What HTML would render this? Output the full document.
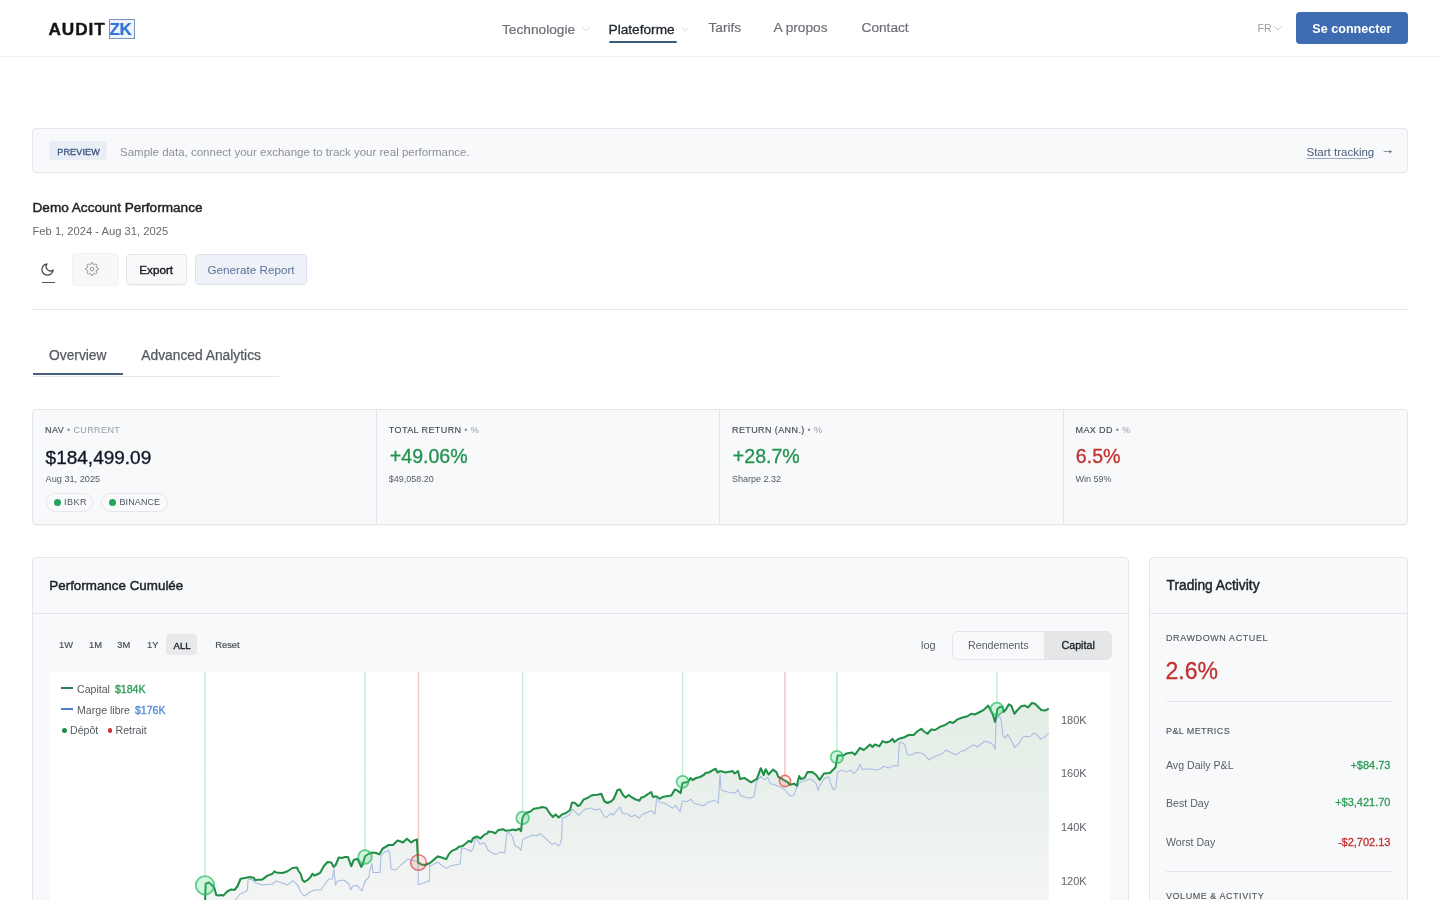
<!DOCTYPE html>
<html lang="fr"><head><meta charset="utf-8"><title>AuditZK - Demo Account Performance</title>
<style>
html,body{margin:0;padding:0;background:#fff;width:1440px;height:900px;overflow:hidden}
body{position:relative;font-family:"Liberation Sans",Arial,sans-serif;}
.t{position:absolute;line-height:1;white-space:nowrap}
</style></head><body>
<div class="" style="position:absolute;left:0px;top:0px;width:1440px;height:56px;background:#fff;border-bottom:1px solid #f0f0f0;box-sizing:content-box"></div>
<div class="t " style="left:48.50px;top:21.24px;font-size:17.2px;font-weight:700;color:#141414;letter-spacing:0.95px;-webkit-text-stroke:0.4px #141414">AUDIT</div>
<div class="" style="position:absolute;left:109px;top:19px;width:26px;height:20px;border:1px solid #7d93b8;box-sizing:border-box;background:#eef4fd"></div>
<div class="t " style="left:109.50px;top:21.41px;font-size:17px;font-weight:700;color:#3574d4;letter-spacing:-0.3px;-webkit-text-stroke:0.2px #3574d4">ZK</div>
<div class="t " style="left:502.00px;top:23.20px;font-size:13.7px;color:#6b6f75;-webkit-text-stroke:0.2px #6b6f75">Technologie</div>
<svg style="position:absolute;left:582px;top:27px" width="8" height="5" viewBox="0 0 8 5"><path d="M0.5 0.5 L4 4 L7.5 0.5" fill="none" stroke="#dadde1" stroke-width="1"/></svg>
<div class="t " style="left:608.50px;top:23.20px;font-size:13.7px;color:#1f2430;-webkit-text-stroke:0.3px #1f2430">Plateforme</div>
<svg style="position:absolute;left:680.5px;top:27px" width="8" height="5" viewBox="0 0 8 5"><path d="M0.5 0.5 L4 4 L7.5 0.5" fill="none" stroke="#dadde1" stroke-width="1"/></svg>
<div class="" style="position:absolute;left:609px;top:41px;width:68px;height:2px;background:#3c5a7e;border-radius:1px"></div>
<div class="t " style="left:708.50px;top:21.40px;font-size:13.7px;color:#6b6f75;-webkit-text-stroke:0.2px #6b6f75">Tarifs</div>
<div class="t " style="left:773.50px;top:21.40px;font-size:13.7px;color:#6b6f75;-webkit-text-stroke:0.2px #6b6f75">A propos</div>
<div class="t " style="left:861.50px;top:21.40px;font-size:13.7px;color:#6b6f75;-webkit-text-stroke:0.2px #6b6f75">Contact</div>
<div class="t " style="left:1257.50px;top:23.41px;font-size:10.5px;color:#9a9da2">FR</div>
<svg style="position:absolute;left:1274px;top:25.5px" width="8" height="5" viewBox="0 0 8 5"><path d="M0.5 0.5 L4 4 L7.5 0.5" fill="none" stroke="#c3c6cb" stroke-width="1"/></svg>
<div class="" style="position:absolute;left:1296px;top:12px;width:112px;height:32px;background:#3e6cb0;border-radius:4px"></div>
<div class="t " style="left:1312.30px;top:22.83px;font-size:12.6px;color:#fff;font-weight:700">Se connecter</div>
<div class="" style="position:absolute;left:32px;top:128px;width:1376px;height:45px;background:#f8f9fb;border:1px solid #e4e6ea;border-radius:4px;box-sizing:border-box"></div>
<div class="" style="position:absolute;left:49px;top:141px;width:58px;height:19px;background:#e9edf5;border-radius:3px"></div>
<div class="t " style="left:57.30px;top:147.68px;font-size:9px;color:#3f5a82;letter-spacing:0.15px;-webkit-text-stroke:0.35px #3f5a82">PREVIEW</div>
<div class="t " style="left:120.00px;top:146.56px;font-size:11.5px;color:#8c9097">Sample data, connect your exchange to track your real performance.</div>
<div class="t " style="left:1306.50px;top:146.56px;font-size:11.5px;color:#4c5b78;text-decoration:underline;text-underline-offset:2px;text-decoration-color:#9aa6bd">Start tracking</div>
<div class="t " style="left:1381.00px;top:143.39px;font-size:13px;color:#4c5b78;-webkit-text-stroke:0.2px #4c5b78">→</div>
<div class="t " style="left:32.50px;top:200.89px;font-size:13.6px;color:#1e2226;-webkit-text-stroke:0.45px #1e2226">Demo Account Performance</div>
<div class="t " style="left:32.50px;top:225.62px;font-size:11.2px;color:#666a70">Feb 1, 2024 - Aug 31, 2025</div>
<svg style="position:absolute;left:40px;top:262px" width="15" height="15" viewBox="0 0 24 24" fill="none" stroke="#444" stroke-width="2" stroke-linecap="round" stroke-linejoin="round"><path d="M21 12.79A9 9 0 1 1 11.21 3 7 7 0 0 0 21 12.79z"/></svg><div class="" style="position:absolute;left:41.5px;top:281.5px;width:13.0px;height:1.5px;background:#555"></div>
<div class="" style="position:absolute;left:72px;top:253px;width:46.5px;height:33px;background:#f8f8f9;border:1px solid #f2f2f3;border-radius:4px;box-sizing:border-box"></div>
<svg style="position:absolute;left:85px;top:262px" width="14" height="14" viewBox="0 0 24 24" fill="none" stroke="#858a90" stroke-width="1.6" stroke-linecap="round" stroke-linejoin="round"><circle cx="12" cy="12" r="3"/><path d="M19.4 15a1.65 1.65 0 0 0 .33 1.82l.06.06a2 2 0 0 1 0 2.83 2 2 0 0 1-2.83 0l-.06-.06a1.65 1.65 0 0 0-1.82-.33 1.65 1.65 0 0 0-1 1.51V21a2 2 0 0 1-2 2 2 2 0 0 1-2-2v-.09A1.65 1.65 0 0 0 9 19.4a1.65 1.65 0 0 0-1.82.33l-.06.06a2 2 0 0 1-2.83 0 2 2 0 0 1 0-2.83l.06-.06a1.65 1.65 0 0 0 .33-1.82 1.65 1.65 0 0 0-1.51-1H3a2 2 0 0 1-2-2 2 2 0 0 1 2-2h.09A1.65 1.65 0 0 0 4.6 9a1.65 1.65 0 0 0-.33-1.82l-.06-.06a2 2 0 0 1 0-2.83 2 2 0 0 1 2.83 0l.06.06a1.65 1.65 0 0 0 1.82.33H9a1.65 1.65 0 0 0 1-1.51V3a2 2 0 0 1 2-2 2 2 0 0 1 2 2v.09a1.65 1.65 0 0 0 1 1.51 1.65 1.65 0 0 0 1.82-.33l.06-.06a2 2 0 0 1 2.83 0 2 2 0 0 1 0 2.83l-.06.06a1.65 1.65 0 0 0-.33 1.82V9a1.65 1.65 0 0 0 1.51 1H21a2 2 0 0 1 2 2 2 2 0 0 1-2 2h-.09a1.65 1.65 0 0 0-1.51 1z"/></svg><div class="" style="position:absolute;left:126px;top:253.5px;width:60.5px;height:31.5px;background:#f8f9fb;border:1px solid #e2e5e9;border-radius:4px;box-sizing:border-box;box-shadow:0 1px 1px rgba(0,0,0,0.03)"></div>
<div class="t " style="left:139.30px;top:264.39px;font-size:11.7px;color:#1a1c1f;-webkit-text-stroke:0.4px #1a1c1f">Export</div>
<div class="" style="position:absolute;left:195px;top:253.5px;width:112px;height:31.5px;background:#eef2f8;border:1px solid #dbe1ea;border-radius:4px;box-sizing:border-box"></div>
<div class="t " style="left:207.50px;top:264.39px;font-size:11.7px;color:#5b7398">Generate Report</div>
<div class="" style="position:absolute;left:32px;top:309px;width:1376px;height:1px;background:#e6e8eb"></div>
<div class="" style="position:absolute;left:33px;top:376px;width:246px;height:1px;background:#e6e8eb"></div>
<div class="" style="position:absolute;left:33px;top:373px;width:90px;height:2px;background:#465f7a"></div>
<div class="t " style="left:49.00px;top:348.92px;font-size:13.8px;color:#555a60;-webkit-text-stroke:0.25px #555a60">Overview</div>
<div class="t " style="left:141.30px;top:348.92px;font-size:13.8px;color:#555a60;-webkit-text-stroke:0.25px #555a60">Advanced Analytics</div>
<div class="" style="position:absolute;left:32px;top:409px;width:1376px;height:116px;background:#f8f9fb;border:1px solid #e3e5e9;border-radius:4px;box-sizing:border-box;box-shadow:0 1px 2px rgba(0,0,0,0.04)"></div>
<div class="" style="position:absolute;left:376px;top:410px;width:1px;height:114px;background:#e3e5e9"></div>
<div class="" style="position:absolute;left:719px;top:410px;width:1px;height:114px;background:#e3e5e9"></div>
<div class="" style="position:absolute;left:1063px;top:410px;width:1px;height:114px;background:#e3e5e9"></div>
<div class="t " style="left:45.00px;top:425.98px;font-size:9px;letter-spacing:0.4px"><span style="color:#4a4f56;-webkit-text-stroke:0.15px #4a4f56">NAV</span> <span style="color:#8e9298">•</span> <span style="color:#989ca2">CURRENT</span></div>
<div class="t " style="left:45.60px;top:447.51px;font-size:19px;color:#111827;font-weight:400;-webkit-text-stroke:0.35px #111827">$184,499.09</div>
<div class="t " style="left:45.50px;top:474.81px;font-size:9.2px;color:#555a60">Aug 31, 2025</div>
<div class="" style="position:absolute;left:46px;top:493px;width:47px;height:18.5px;border:1px solid #e6e7ea;border-radius:10px;box-sizing:border-box;background:#f9fafb"></div>
<div class="" style="position:absolute;left:53.5px;top:498.5px;width:7.0px;height:7.0px;background:#23a55a;border-radius:50%"></div>
<div class="t " style="left:64.00px;top:497.88px;font-size:9px;color:#50555c;letter-spacing:0.5px">IBKR</div>
<div class="" style="position:absolute;left:101px;top:493px;width:66.5px;height:18.5px;border:1px solid #e6e7ea;border-radius:10px;box-sizing:border-box;background:#f9fafb"></div>
<div class="" style="position:absolute;left:108.5px;top:498.5px;width:7.0px;height:7.0px;background:#23a55a;border-radius:50%"></div>
<div class="t " style="left:119.50px;top:497.88px;font-size:9px;color:#50555c;letter-spacing:0.1px">BINANCE</div>
<div class="t " style="left:388.80px;top:425.98px;font-size:9px;letter-spacing:0.4px"><span style="color:#4a4f56;-webkit-text-stroke:0.15px #4a4f56">TOTAL RETURN</span> <span style="color:#8e9298">•</span> <span style="color:#989ca2">%</span></div>
<div class="t " style="left:389.80px;top:446.71px;font-size:19.6px;color:#22924f;-webkit-text-stroke:0.3px #22924f">+49.06%</div>
<div class="t " style="left:388.80px;top:474.98px;font-size:9px;color:#555a60">$49,058.20</div>
<div class="t " style="left:732.00px;top:425.98px;font-size:9px;letter-spacing:0.4px"><span style="color:#4a4f56;-webkit-text-stroke:0.15px #4a4f56">RETURN (ANN.)</span> <span style="color:#8e9298">•</span> <span style="color:#989ca2">%</span></div>
<div class="t " style="left:732.80px;top:446.71px;font-size:19.6px;color:#22924f;-webkit-text-stroke:0.3px #22924f">+28.7%</div>
<div class="t " style="left:732.00px;top:474.98px;font-size:9px;color:#555a60">Sharpe 2.32</div>
<div class="t " style="left:1075.50px;top:425.98px;font-size:9px;letter-spacing:0.4px"><span style="color:#4a4f56;-webkit-text-stroke:0.15px #4a4f56">MAX DD</span> <span style="color:#8e9298">•</span> <span style="color:#989ca2">%</span></div>
<div class="t " style="left:1075.80px;top:446.71px;font-size:19.6px;color:#c0312f;-webkit-text-stroke:0.3px #c0312f">6.5%</div>
<div class="t " style="left:1075.50px;top:474.98px;font-size:9px;color:#555a60">Win 59%</div>
<div class="" style="position:absolute;left:32px;top:557px;width:1097px;height:373px;background:#f8f9fb;border:1px solid #e3e5e9;border-radius:4px;box-sizing:border-box"></div>
<div class="" style="position:absolute;left:33px;top:613px;width:1095px;height:1px;background:#e3e5e9"></div>
<div class="t " style="left:49.30px;top:579.46px;font-size:13.4px;color:#1e2226;-webkit-text-stroke:0.45px #1e2226">Performance Cumulée</div>
<div class="t " style="left:59.00px;top:641.13px;font-size:9.3px;color:#4a4e54;-webkit-text-stroke:0.2px #4a4e54">1W</div>
<div class="t " style="left:89.00px;top:641.13px;font-size:9.3px;color:#4a4e54;-webkit-text-stroke:0.2px #4a4e54">1M</div>
<div class="t " style="left:117.30px;top:641.13px;font-size:9.3px;color:#4a4e54;-webkit-text-stroke:0.2px #4a4e54">3M</div>
<div class="t " style="left:147.00px;top:641.13px;font-size:9.3px;color:#4a4e54;-webkit-text-stroke:0.2px #4a4e54">1Y</div>
<div class="" style="position:absolute;left:165.5px;top:633.5px;width:31.0px;height:21.5px;background:#e8e9eb;border-radius:3px"></div>
<div class="t " style="left:173.60px;top:640.87px;font-size:9.6px;color:#1e2226;-webkit-text-stroke:0.35px #1e2226">ALL</div>
<div class="t " style="left:215.30px;top:641.13px;font-size:9.3px;color:#4a4e54;-webkit-text-stroke:0.2px #4a4e54">Reset</div>
<div class="t " style="left:921.00px;top:640.09px;font-size:11px;color:#5a5e64">log</div>
<div class="" style="position:absolute;left:952px;top:630.5px;width:160px;height:29.0px;background:#f8f9fb;border:1px solid #e2e4e8;border-radius:6px;box-sizing:border-box;overflow:hidden"><div style="position:absolute;left:91px;top:0;right:0;bottom:0;background:#e5e6e8"></div></div>
<div class="t " style="left:968.00px;top:640.34px;font-size:10.7px;color:#5a5e64">Rendements</div>
<div class="t " style="left:1061.50px;top:640.34px;font-size:10.7px;color:#1e2226;-webkit-text-stroke:0.35px #1e2226">Capital</div>
<svg style="position:absolute;left:50px;top:672px" width="1060" height="228" viewBox="50 672 1060 228">
<defs><linearGradient id="gf" x1="0" y1="700" x2="0" y2="910" gradientUnits="userSpaceOnUse">
<stop offset="0" stop-color="#e3eee6"/><stop offset="0.55" stop-color="#ebf0ed"/><stop offset="1" stop-color="#f4f6f5"/></linearGradient></defs>
<rect x="50" y="672" width="1060" height="240" fill="#ffffff"/>
<g stroke="#fafbfb" stroke-width="1"><line x1="50" y1="720.5" x2="1049" y2="720.5"/><line x1="50" y1="774.5" x2="1049" y2="774.5"/><line x1="50" y1="827.5" x2="1049" y2="827.5"/><line x1="50" y1="881.5" x2="1049" y2="881.5"/></g>
<path d="M205.00,905.00 L205.60,883.75 L208.75,882.50 L211.90,885.00 L214.40,888.00 L216.25,895.00 L218.75,895.60 L221.25,895.00 L223.10,895.60 L224.40,894.40 L227.50,891.25 L231.25,889.40 L234.40,890.00 L237.50,886.25 L240.60,878.75 L245.00,878.00 L249.40,876.90 L253.75,877.75 L255.00,880.00 L262.50,879.40 L267.50,875.60 L272.50,873.75 L274.40,871.25 L276.25,872.50 L282.50,873.00 L287.50,871.25 L292.50,868.00 L296.90,867.50 L298.75,871.25 L300.60,873.75 L302.50,880.00 L304.40,881.90 L307.50,880.00 L310.60,877.00 L312.50,873.75 L314.40,875.60 L320.00,873.00 L323.75,866.25 L327.50,862.00 L331.25,862.50 L333.75,866.90 L335.60,865.00 L338.75,857.50 L341.90,858.00 L345.00,857.00 L348.00,857.00 L351.25,866.25 L353.75,860.00 L357.50,858.75 L361.25,866.90 L362.50,865.00 L365.00,856.25 L368.75,853.75 L372.50,852.50 L376.25,853.00 L379.40,854.40 L382.50,848.75 L388.75,845.00 L393.00,845.00 L397.50,840.60 L400.00,841.25 L403.00,842.50 L406.90,838.75 L411.25,842.50 L413.75,840.60 L416.90,839.40 L418.10,862.50 L421.25,864.40 L425.00,865.00 L430.00,863.00 L437.80,856.40 L440.90,857.20 L446.30,859.10 L448.70,854.40 L451.80,850.90 L456.40,849.00 L458.80,846.70 L462.70,845.90 L465.80,843.50 L468.90,840.80 L471.20,842.00 L472.80,838.50 L476.70,836.50 L480.50,838.50 L484.40,834.60 L487.50,833.40 L488.30,831.50 L492.20,831.90 L495.30,833.40 L498.40,829.90 L503.10,829.20 L505.40,830.70 L510.10,830.30 L513.20,829.50 L515.50,830.30 L519.40,828.80 L521.00,831.10 L522.50,817.90 L524.10,814.80 L527.20,812.40 L530.00,811.70 L533.75,808.75 L538.75,808.00 L542.50,807.00 L546.25,808.00 L550.00,813.75 L553.00,817.00 L555.60,814.40 L558.75,817.50 L562.00,814.40 L566.00,813.00 L570.00,810.00 L572.00,802.50 L575.00,803.00 L578.00,806.00 L580.00,805.00 L583.75,799.40 L587.50,798.00 L591.25,795.60 L593.75,795.00 L597.50,794.75 L601.25,793.75 L604.40,801.25 L607.50,803.00 L611.25,801.25 L613.75,798.75 L617.50,790.00 L620.00,789.40 L623.00,795.00 L625.60,797.50 L628.75,795.00 L632.00,797.50 L635.60,799.40 L639.40,800.60 L641.25,797.50 L643.75,797.00 L647.50,794.40 L651.25,792.00 L653.00,797.00 L656.25,796.25 L660.00,798.75 L662.50,797.00 L666.25,796.25 L671.25,795.60 L675.00,789.40 L677.50,790.60 L680.60,793.00 L682.50,783.00 L685.00,782.50 L688.00,782.00 L690.60,778.00 L692.50,780.00 L696.25,778.00 L700.00,777.00 L703.75,775.00 L705.60,773.00 L708.75,772.50 L712.00,770.60 L715.60,768.75 L717.50,772.50 L720.00,771.10 L725.80,772.60 L732.60,771.10 L734.60,773.50 L738.00,771.10 L740.00,778.90 L744.30,777.90 L751.10,782.30 L756.90,778.90 L760.80,768.20 L763.70,775.00 L765.70,769.20 L768.60,774.50 L773.00,769.60 L776.40,772.10 L778.30,776.90 L782.20,778.90 L785.10,780.80 L787.10,781.80 L790.00,784.70 L793.90,783.70 L796.80,785.70 L799.20,776.00 L800.70,778.90 L804.50,777.90 L807.50,772.10 L812.30,772.10 L816.20,775.00 L819.60,779.80 L824.00,773.50 L829.80,773.00 L835.60,767.20 L837.60,755.50 L843.40,755.50 L846.30,753.60 L852.20,752.60 L855.10,754.60 L860.00,747.80 L863.75,750.00 L866.25,748.00 L870.00,744.50 L872.50,747.00 L875.00,744.40 L879.40,746.25 L882.50,741.25 L886.25,742.50 L890.00,741.25 L892.50,738.75 L894.40,742.00 L898.75,738.75 L903.75,737.50 L908.75,735.00 L913.75,735.00 L917.50,731.25 L921.25,728.75 L923.75,731.25 L927.50,733.75 L931.25,729.40 L935.00,730.00 L940.00,726.90 L945.00,725.00 L950.00,721.90 L953.00,723.00 L957.50,719.40 L962.50,717.50 L967.50,716.25 L971.25,713.75 L975.00,714.40 L978.75,712.50 L982.50,710.60 L985.00,708.75 L988.00,705.60 L990.60,710.00 L993.00,715.00 L995.00,721.90 L996.25,716.25 L997.50,708.75 L1000.00,706.90 L1002.50,706.90 L1003.75,711.90 L1006.25,708.75 L1008.75,704.40 L1011.25,705.60 L1014.40,713.75 L1017.50,710.00 L1021.25,706.25 L1025.00,705.60 L1028.00,707.50 L1031.90,703.00 L1035.00,703.75 L1037.50,706.25 L1041.25,710.00 L1045.00,710.60 L1048.75,708.75 L1048.75,930 L205,930 Z" fill="url(#gf)"/>
<line x1="205" y1="672" x2="205" y2="876.0999999999999" stroke="#c6ead2" stroke-width="1.5"/><line x1="365" y1="672" x2="365" y2="850.2" stroke="#c6ead2" stroke-width="1.5"/><line x1="418.5" y1="672" x2="418.5" y2="854.7" stroke="#f4c6c6" stroke-width="1.5"/><line x1="522.6" y1="672" x2="522.6" y2="811.7" stroke="#c6ead2" stroke-width="1.5"/><line x1="682.6" y1="672" x2="682.6" y2="775.8" stroke="#c6ead2" stroke-width="1.5"/><line x1="785" y1="672" x2="785" y2="775.4" stroke="#f4c6c6" stroke-width="1.5"/><line x1="836.9" y1="672" x2="836.9" y2="750.8" stroke="#c6ead2" stroke-width="1.5"/><line x1="996.9" y1="672" x2="996.9" y2="702.5999999999999" stroke="#c6ead2" stroke-width="1.5"/>
<path d="M205.00,915.00 L225.00,908.00 L232.00,903.00 L236.00,899.00 L240.00,894.00 L245.00,892.00 L247.50,890.00 L248.00,880.00 L251.00,879.00 L256.00,883.00 L262.50,885.00 L272.50,884.00 L276.00,881.00 L282.50,883.00 L287.50,885.00 L293.00,880.60 L297.50,885.00 L301.00,892.50 L304.40,896.00 L310.00,892.00 L315.00,890.00 L321.00,890.00 L325.00,884.00 L329.00,879.00 L332.50,879.00 L333.75,869.00 L335.60,885.00 L337.50,881.00 L344.00,880.00 L349.00,884.00 L350.60,890.00 L352.50,886.00 L357.50,885.60 L362.00,891.00 L365.00,881.00 L368.75,877.50 L370.00,870.00 L372.00,864.00 L373.00,872.50 L380.00,872.50 L381.00,856.00 L384.00,852.50 L388.75,850.00 L390.00,856.00 L391.00,869.00 L396.00,870.00 L401.00,865.00 L407.70,859.30 L413.00,860.50 L418.00,862.00 L418.30,884.70 L429.50,880.70 L429.80,865.00 L430.00,866.10 L437.80,862.20 L441.70,865.30 L446.30,868.40 L450.20,866.10 L457.20,864.50 L460.30,863.80 L461.50,848.20 L464.20,848.20 L471.20,851.30 L473.50,847.40 L475.10,839.70 L476.70,838.90 L479.80,844.30 L484.40,842.80 L488.30,850.50 L492.20,852.90 L496.10,854.40 L500.00,852.10 L504.70,852.90 L507.00,832.70 L509.30,832.70 L512.40,836.50 L514.80,845.10 L516.30,846.70 L518.70,847.40 L521.00,850.50 L522.50,840.40 L524.90,838.10 L530.00,836.50 L532.00,835.00 L536.70,835.70 L540.00,833.70 L546.70,839.30 L552.00,844.30 L555.30,843.00 L558.00,846.00 L560.00,844.30 L561.70,838.70 L562.30,818.00 L566.00,817.00 L569.30,814.70 L572.70,809.30 L575.30,812.00 L578.70,815.30 L582.00,812.00 L584.70,809.30 L592.00,808.00 L594.00,810.00 L600.00,809.00 L604.20,816.70 L606.70,817.50 L610.80,813.30 L613.30,815.00 L619.60,807.00 L622.50,813.30 L627.50,814.20 L631.70,816.70 L635.00,815.00 L639.20,818.30 L641.70,815.00 L646.70,812.50 L651.70,810.80 L655.00,814.20 L656.70,798.30 L660.00,802.50 L665.00,803.30 L672.50,808.30 L675.80,805.40 L680.00,811.70 L682.50,800.80 L686.70,801.70 L690.80,799.20 L694.20,803.30 L703.30,805.80 L707.50,802.50 L715.00,800.00 L718.30,803.30 L720.00,774.00 L721.00,788.60 L722.00,790.50 L729.70,792.50 L735.50,793.00 L738.00,789.60 L740.40,795.40 L745.30,797.30 L749.20,798.30 L754.00,796.40 L756.90,780.80 L760.80,776.40 L764.70,779.80 L767.60,777.40 L770.50,783.70 L774.40,784.70 L777.30,785.70 L781.00,787.50 L784.00,789.00 L787.10,792.50 L790.00,795.90 L793.90,795.40 L796.80,787.60 L800.70,781.80 L805.50,780.80 L809.40,778.90 L813.30,780.80 L816.20,783.70 L818.20,790.50 L820.10,784.70 L825.00,777.90 L828.80,776.90 L831.80,786.60 L833.70,789.60 L835.60,788.60 L837.60,772.10 L841.50,770.10 L846.30,772.10 L850.20,770.10 L854.10,773.50 L858.00,769.20 L860.00,764.30 L862.50,769.40 L867.50,768.75 L872.50,769.40 L876.25,770.00 L880.00,769.00 L883.75,766.25 L888.75,768.00 L893.75,765.60 L898.00,766.25 L899.40,742.50 L902.50,743.00 L905.00,745.00 L906.90,754.40 L911.25,755.00 L916.25,752.50 L921.25,753.00 L925.00,755.00 L928.75,760.00 L932.50,757.50 L938.75,755.00 L942.50,753.75 L945.60,750.00 L950.00,752.00 L956.25,755.00 L960.00,751.90 L965.00,750.00 L970.00,746.90 L973.75,745.00 L977.50,747.00 L981.25,743.75 L985.00,741.25 L990.00,742.50 L993.75,745.60 L995.00,749.40 L996.25,720.00 L999.40,715.00 L1001.25,721.25 L1003.00,736.25 L1005.60,738.00 L1007.50,734.40 L1011.25,740.00 L1014.40,747.50 L1018.75,743.75 L1022.50,737.50 L1026.25,736.25 L1030.00,737.00 L1033.75,733.00 L1037.50,735.00 L1040.60,739.40 L1045.00,737.00 L1048.75,733.00" fill="none" stroke="#a8bce2" stroke-width="1.05" stroke-linejoin="round"/>
<path d="M205.00,905.00 L205.60,883.75 L208.75,882.50 L211.90,885.00 L214.40,888.00 L216.25,895.00 L218.75,895.60 L221.25,895.00 L223.10,895.60 L224.40,894.40 L227.50,891.25 L231.25,889.40 L234.40,890.00 L237.50,886.25 L240.60,878.75 L245.00,878.00 L249.40,876.90 L253.75,877.75 L255.00,880.00 L262.50,879.40 L267.50,875.60 L272.50,873.75 L274.40,871.25 L276.25,872.50 L282.50,873.00 L287.50,871.25 L292.50,868.00 L296.90,867.50 L298.75,871.25 L300.60,873.75 L302.50,880.00 L304.40,881.90 L307.50,880.00 L310.60,877.00 L312.50,873.75 L314.40,875.60 L320.00,873.00 L323.75,866.25 L327.50,862.00 L331.25,862.50 L333.75,866.90 L335.60,865.00 L338.75,857.50 L341.90,858.00 L345.00,857.00 L348.00,857.00 L351.25,866.25 L353.75,860.00 L357.50,858.75 L361.25,866.90 L362.50,865.00 L365.00,856.25 L368.75,853.75 L372.50,852.50 L376.25,853.00 L379.40,854.40 L382.50,848.75 L388.75,845.00 L393.00,845.00 L397.50,840.60 L400.00,841.25 L403.00,842.50 L406.90,838.75 L411.25,842.50 L413.75,840.60 L416.90,839.40 L418.10,862.50 L421.25,864.40 L425.00,865.00 L430.00,863.00 L437.80,856.40 L440.90,857.20 L446.30,859.10 L448.70,854.40 L451.80,850.90 L456.40,849.00 L458.80,846.70 L462.70,845.90 L465.80,843.50 L468.90,840.80 L471.20,842.00 L472.80,838.50 L476.70,836.50 L480.50,838.50 L484.40,834.60 L487.50,833.40 L488.30,831.50 L492.20,831.90 L495.30,833.40 L498.40,829.90 L503.10,829.20 L505.40,830.70 L510.10,830.30 L513.20,829.50 L515.50,830.30 L519.40,828.80 L521.00,831.10 L522.50,817.90 L524.10,814.80 L527.20,812.40 L530.00,811.70 L533.75,808.75 L538.75,808.00 L542.50,807.00 L546.25,808.00 L550.00,813.75 L553.00,817.00 L555.60,814.40 L558.75,817.50 L562.00,814.40 L566.00,813.00 L570.00,810.00 L572.00,802.50 L575.00,803.00 L578.00,806.00 L580.00,805.00 L583.75,799.40 L587.50,798.00 L591.25,795.60 L593.75,795.00 L597.50,794.75 L601.25,793.75 L604.40,801.25 L607.50,803.00 L611.25,801.25 L613.75,798.75 L617.50,790.00 L620.00,789.40 L623.00,795.00 L625.60,797.50 L628.75,795.00 L632.00,797.50 L635.60,799.40 L639.40,800.60 L641.25,797.50 L643.75,797.00 L647.50,794.40 L651.25,792.00 L653.00,797.00 L656.25,796.25 L660.00,798.75 L662.50,797.00 L666.25,796.25 L671.25,795.60 L675.00,789.40 L677.50,790.60 L680.60,793.00 L682.50,783.00 L685.00,782.50 L688.00,782.00 L690.60,778.00 L692.50,780.00 L696.25,778.00 L700.00,777.00 L703.75,775.00 L705.60,773.00 L708.75,772.50 L712.00,770.60 L715.60,768.75 L717.50,772.50 L720.00,771.10 L725.80,772.60 L732.60,771.10 L734.60,773.50 L738.00,771.10 L740.00,778.90 L744.30,777.90 L751.10,782.30 L756.90,778.90 L760.80,768.20 L763.70,775.00 L765.70,769.20 L768.60,774.50 L773.00,769.60 L776.40,772.10 L778.30,776.90 L782.20,778.90 L785.10,780.80 L787.10,781.80 L790.00,784.70 L793.90,783.70 L796.80,785.70 L799.20,776.00 L800.70,778.90 L804.50,777.90 L807.50,772.10 L812.30,772.10 L816.20,775.00 L819.60,779.80 L824.00,773.50 L829.80,773.00 L835.60,767.20 L837.60,755.50 L843.40,755.50 L846.30,753.60 L852.20,752.60 L855.10,754.60 L860.00,747.80 L863.75,750.00 L866.25,748.00 L870.00,744.50 L872.50,747.00 L875.00,744.40 L879.40,746.25 L882.50,741.25 L886.25,742.50 L890.00,741.25 L892.50,738.75 L894.40,742.00 L898.75,738.75 L903.75,737.50 L908.75,735.00 L913.75,735.00 L917.50,731.25 L921.25,728.75 L923.75,731.25 L927.50,733.75 L931.25,729.40 L935.00,730.00 L940.00,726.90 L945.00,725.00 L950.00,721.90 L953.00,723.00 L957.50,719.40 L962.50,717.50 L967.50,716.25 L971.25,713.75 L975.00,714.40 L978.75,712.50 L982.50,710.60 L985.00,708.75 L988.00,705.60 L990.60,710.00 L993.00,715.00 L995.00,721.90 L996.25,716.25 L997.50,708.75 L1000.00,706.90 L1002.50,706.90 L1003.75,711.90 L1006.25,708.75 L1008.75,704.40 L1011.25,705.60 L1014.40,713.75 L1017.50,710.00 L1021.25,706.25 L1025.00,705.60 L1028.00,707.50 L1031.90,703.00 L1035.00,703.75 L1037.50,706.25 L1041.25,710.00 L1045.00,710.60 L1048.75,708.75" fill="none" stroke="#1f8f48" stroke-width="2.05" stroke-linejoin="round"/>
<circle cx="205" cy="885.3" r="9.2" fill="rgba(74,222,128,0.26)" stroke="rgba(40,185,95,0.7)" stroke-width="1.8"/><circle cx="365" cy="857" r="6.8" fill="rgba(74,222,128,0.26)" stroke="rgba(40,185,95,0.7)" stroke-width="1.8"/><circle cx="418.5" cy="862.5" r="7.8" fill="rgba(248,113,113,0.18)" stroke="rgba(220,38,38,0.6)" stroke-width="1.6"/><circle cx="522.6" cy="818" r="6.3" fill="rgba(74,222,128,0.26)" stroke="rgba(40,185,95,0.7)" stroke-width="1.8"/><circle cx="682.6" cy="781.8" r="6" fill="rgba(74,222,128,0.26)" stroke="rgba(40,185,95,0.7)" stroke-width="1.8"/><circle cx="785" cy="781" r="5.6" fill="rgba(248,113,113,0.18)" stroke="rgba(220,38,38,0.6)" stroke-width="1.6"/><circle cx="836.9" cy="757" r="6.2" fill="rgba(74,222,128,0.26)" stroke="rgba(40,185,95,0.7)" stroke-width="1.8"/><circle cx="996.9" cy="708.8" r="6.2" fill="rgba(74,222,128,0.26)" stroke="rgba(40,185,95,0.7)" stroke-width="1.8"/>
<g font-family="Liberation Sans, sans-serif" font-size="11" fill="#5f6368">
<text x="1061" y="723.9">180K</text>
<text x="1061" y="777.3">160K</text>
<text x="1061" y="830.9">140K</text>
<text x="1061" y="884.7">120K</text>
</g>
</svg><div class="" style="position:absolute;left:61px;top:687px;width:12px;height:2px;background:#2f7d4f"></div>
<div class="t " style="left:77.00px;top:684.03px;font-size:10.6px;color:#555a60">Capital <span style="margin-left:2px;color:#2ea05a;-webkit-text-stroke:0.35px #2ea05a">$184K</span></div>
<div class="" style="position:absolute;left:61px;top:708px;width:12px;height:2px;background:#4d7fd0"></div>
<div class="t " style="left:77.00px;top:705.03px;font-size:10.6px;color:#555a60">Marge libre <span style="margin-left:2px;color:#5a8fd8;-webkit-text-stroke:0.35px #5a8fd8">$176K</span></div>
<div class="" style="position:absolute;left:61.7px;top:728px;width:5.0px;height:5px;background:#1f8b47;border-radius:50%"></div>
<div class="t " style="left:70.00px;top:725.33px;font-size:10.6px;color:#555a60">Dépôt</div>
<div class="" style="position:absolute;left:107.8px;top:728px;width:4.5px;height:4.5px;background:#d02f2f;border-radius:50%"></div>
<div class="t " style="left:115.50px;top:725.33px;font-size:10.6px;color:#555a60">Retrait</div>
<div class="" style="position:absolute;left:1149px;top:557px;width:259px;height:373px;background:#f8f9fb;border:1px solid #e3e5e9;border-radius:4px;box-sizing:border-box"></div>
<div class="" style="position:absolute;left:1150px;top:613px;width:257px;height:1px;background:#e3e5e9"></div>
<div class="t " style="left:1166.50px;top:579.12px;font-size:13.8px;color:#1e2226;-webkit-text-stroke:0.45px #1e2226">Trading Activity</div>
<div class="t " style="left:1166.00px;top:634.18px;font-size:9px;color:#50555c;letter-spacing:0.6px;-webkit-text-stroke:0.12px #50555c">DRAWDOWN ACTUEL</div>
<div class="t " style="left:1165.50px;top:660.33px;font-size:23px;color:#c0312f;-webkit-text-stroke:0.3px #c0312f">2.6%</div>
<div class="" style="position:absolute;left:1166px;top:701px;width:225.5px;height:1px;background:#e3e5e9"></div>
<div class="t " style="left:1166.00px;top:727.48px;font-size:9px;color:#50555c;letter-spacing:0.4px;-webkit-text-stroke:0.12px #50555c">P&amp;L METRICS</div>
<div class="t " style="left:1166.00px;top:760.03px;font-size:10.6px;color:#5a5e64">Avg Daily P&amp;L</div>
<div class="t " style="right:49.50px;top:759.69px;font-size:11px;color:#2e9a58;-webkit-text-stroke:0.3px #2e9a58">+$84.73</div>
<div class="t " style="left:1166.00px;top:797.83px;font-size:10.6px;color:#5a5e64">Best Day</div>
<div class="t " style="right:49.50px;top:797.49px;font-size:11px;color:#2e9a58;-webkit-text-stroke:0.3px #2e9a58">+$3,421.70</div>
<div class="t " style="left:1166.00px;top:837.03px;font-size:10.6px;color:#5a5e64">Worst Day</div>
<div class="t " style="right:49.50px;top:836.69px;font-size:11px;color:#c0312f;-webkit-text-stroke:0.3px #c0312f">-$2,702.13</div>
<div class="" style="position:absolute;left:1166px;top:871px;width:225.5px;height:1px;background:#e3e5e9"></div>
<div class="t " style="left:1166.00px;top:892.18px;font-size:9px;color:#50555c;letter-spacing:0.55px;-webkit-text-stroke:0.12px #50555c">VOLUME &amp; ACTIVITY</div>

</body></html>
